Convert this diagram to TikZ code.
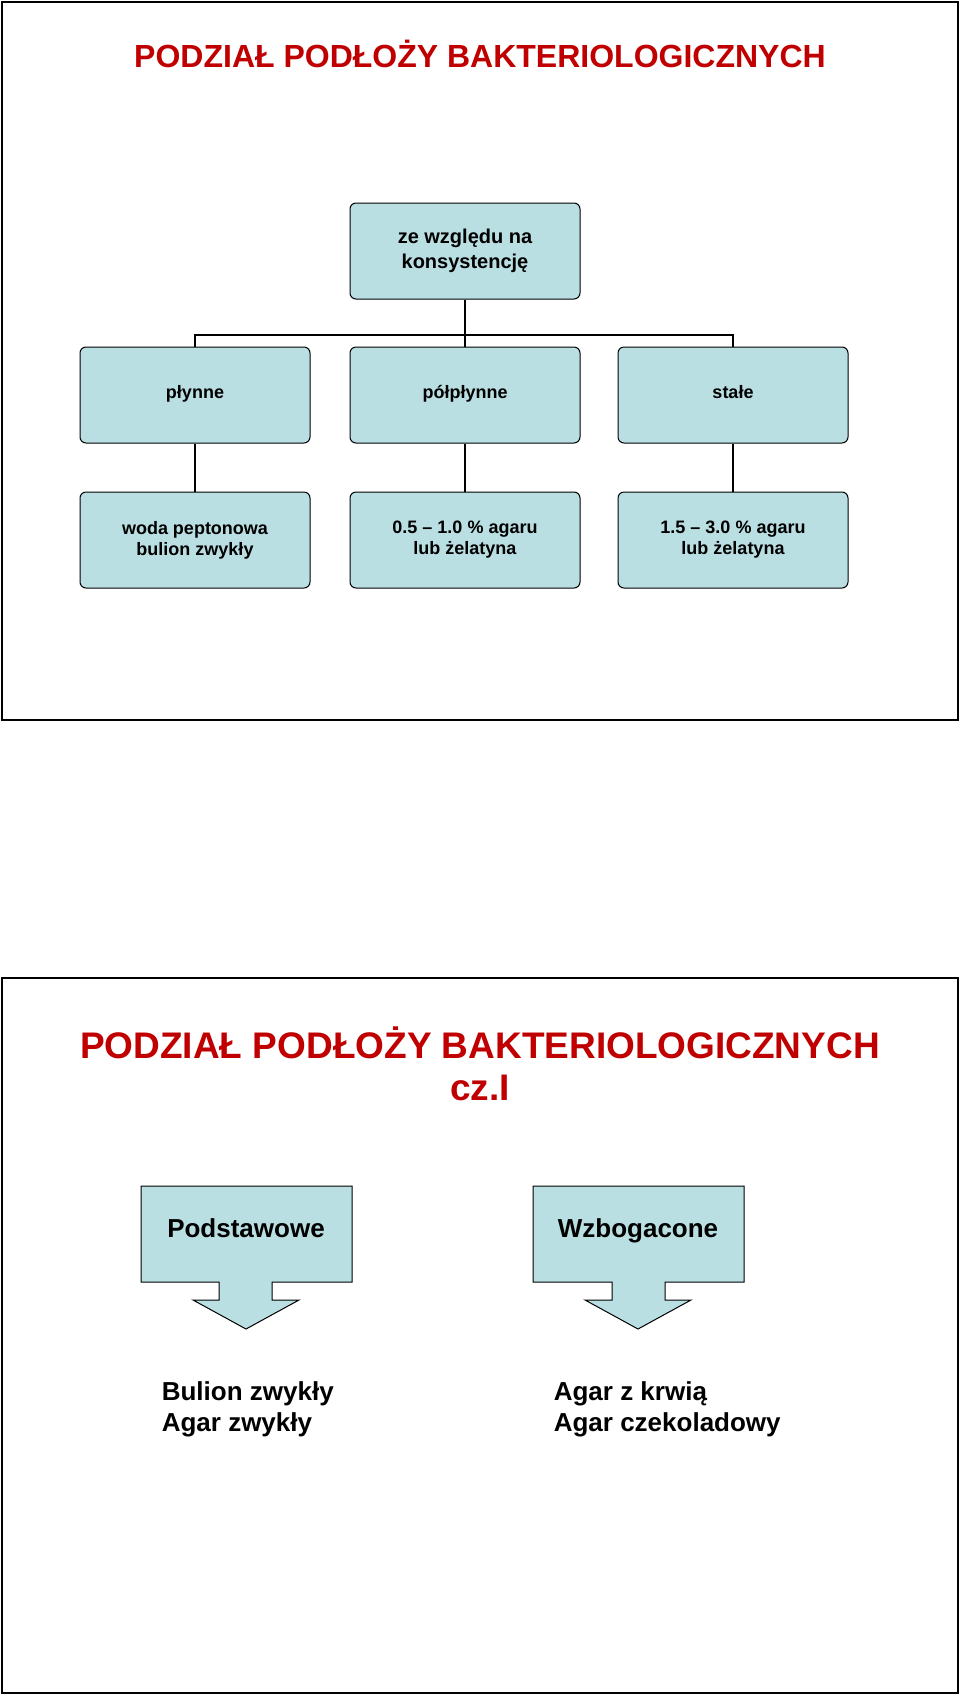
\documentclass[tikz,border=0pt]{standalone}
\usepackage{fontspec}
\setmainfont{Liberation Sans}
\usetikzlibrary{positioning}
\definecolor{boxfill}{RGB}{185,223,227}
\definecolor{titlered}{RGB}{192,0,0}
\tikzset{
  unitbox/.style={draw, rounded corners=6pt, fill=boxfill, minimum width=230pt, minimum height=96pt, align=center, font=\fontsize{18}{21}\selectfont\bfseries},
  slidetitle/.style={text=titlered, font=\fontsize{32}{38}\selectfont\bfseries, align=center},
  calloutbox/.style={draw, fill=boxfill},
  listtext/.style={anchor=north west, align=left, font=\fontsize{26}{31}\selectfont\bfseries}
}
\begin{document}
\begin{tikzpicture}[x=1pt, y=-1pt, line width=1pt]
    \useasboundingbox (0,0) rectangle (960,1695);
    % first slide
    \draw[line width=1.5pt] (2,2) rectangle (958,720);
    \node[slidetitle] (title1) at (480,54) {PODZIAŁ PODŁOŻY BAKTERIOLOGICZNYCH};

    \node[unitbox, font=\fontsize{20}{25}\selectfont\bfseries] (root) at (465,251) {ze względu na\\konsystencję};

    \node[unitbox, text height=2ex, text depth=.5ex] (liquid) at (195,395) {płynne};
    \node[unitbox, text height=2ex, text depth=.5ex] (semi) at (465,395) {półpłynne};
    \node[unitbox, text height=2ex, text depth=.5ex] (solid) at (733,395) {stałe};

    \node[unitbox] (ex1) at (195,540) {woda peptonowa\\bulion zwykły};
    \node[unitbox] (ex2) at (465,540) {0.5 -- 1.0 \% agaru\\lub żelatyna};
    \node[unitbox] (ex3) at (733,540) {1.5 -- 3.0 \% agaru\\lub żelatyna};

    \coordinate (bus) at (465,335);
    \draw[line width=2.5pt] (root) -- (bus);
    \draw[line width=2.5pt] (liquid.north) |- (bus) -| (solid.north);
    \draw[line width=2.5pt] (bus) -- (semi.north);
    \draw[line width=2.5pt] (liquid) -- (ex1);
    \draw[line width=2.5pt] (semi) -- (ex2);
    \draw[line width=2.5pt] (solid) -- (ex3);

    % second slide
    \draw[line width=1.5pt] (2,978) rectangle (958,1693);
    \node[slidetitle, font=\fontsize{37}{42}\selectfont\bfseries] (title2) at (480,1064) {PODZIAŁ PODŁOŻY BAKTERIOLOGICZNYCH\\cz.I};

    \draw[calloutbox] (141,1186) -- (352,1186) -- (352,1282) -- (272,1282) -- (272,1300) -- (299,1300)
        -- (246,1329) -- (193,1300) -- (219,1300) -- (219,1282) -- (141,1282) -- cycle;
    \node[font=\fontsize{26}{30}\selectfont\bfseries, text height=2ex, text depth=.5ex] (basic) at (246,1234) {Podstawowe};
    \draw[calloutbox] (533,1186) -- (744,1186) -- (744,1282) -- (665,1282) -- (665,1300) -- (691,1300)
        -- (638,1329) -- (585,1300) -- (612,1300) -- (612,1282) -- (533,1282) -- cycle;
    \node[font=\fontsize{26}{30}\selectfont\bfseries, text height=2ex, text depth=.5ex] (rich) at (638,1234) {Wzbogacone};

    \node[listtext] (basiclist) at (158,1378) {Bulion zwykły\\Agar zwykły};
    \node[listtext] (richlist) at (550,1378) {Agar z krwią\\Agar czekoladowy};
\end{tikzpicture}
\end{document}
